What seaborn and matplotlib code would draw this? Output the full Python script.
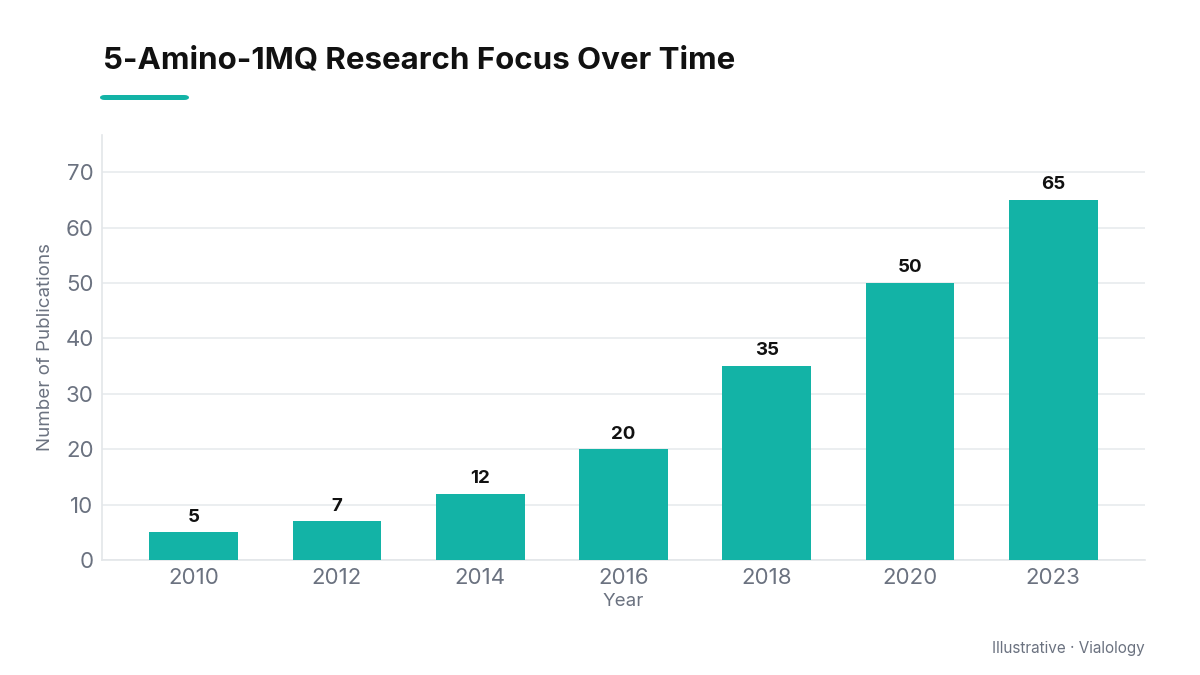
import matplotlib
matplotlib.use("Agg")
import matplotlib.pyplot as plt
import seaborn as sns
import pandas as pd
from matplotlib.patches import FancyBboxPatch

years = ["2010", "2012", "2014", "2016", "2018", "2020", "2023"]
publications = [5, 7, 12, 20, 35, 50, 65]

TEAL = "#13b3a6"
GRAY_TEXT = "#6b7280"
GRID = "#e8ebee"

sns.set_theme(style="whitegrid")
plt.rcParams["font.family"] = ["Inter", "DejaVu Sans"]

df = pd.DataFrame({"Year": years, "Publications": publications})

fig = plt.figure(figsize=(12, 6.75), dpi=100)
ax = fig.add_axes([102 / 1200, 1 - 560 / 675, (1145 - 102) / 1200, (560 - 135) / 675])

sns.barplot(data=df, x="Year", y="Publications", color=TEAL, width=0.62,
            saturation=1, linewidth=0, ax=ax, zorder=3)

ax.set_xlim(-0.64, 6.64)
ax.set_ylim(0, max(publications) * 1.18)
ax.set_yticks(range(0, 71, 10))

for i, v in enumerate(publications):
    ax.text(i, v + 1.2, str(v), ha="center", va="bottom", fontsize=13.5,
            fontweight="bold", color="#111111")

ax.grid(axis="y", color=GRID, linewidth=1.2, zorder=0)
ax.grid(axis="x", visible=False)
for side in ["top", "right"]:
    ax.spines[side].set_visible(False)
for side in ["left", "bottom"]:
    ax.spines[side].set_color("#e3e6e9")
    ax.spines[side].set_linewidth(1.2)

ax.tick_params(axis="both", colors=GRAY_TEXT, labelsize=16, length=0, pad=6)
ax.set_xlabel("Year", fontsize=13.5, color=GRAY_TEXT, labelpad=3)
ax.set_ylabel("Number of Publications", fontsize=13.5, color=GRAY_TEXT, labelpad=8)

fig.text(103 / 1200, 1 - 61 / 675, "5-Amino-1MQ Research Focus Over Time",
         fontsize=22.5, fontweight="bold", color="#111111", va="center", ha="left")
fig.patches.append(FancyBboxPatch((100 / 1200, 1 - 100 / 675), 89 / 1200, 5 / 675,
                                  boxstyle="round,pad=0,rounding_size=0.004",
                                  transform=fig.transFigure, facecolor=TEAL,
                                  edgecolor="none"))
fig.text(1145 / 1200, 1 - 649 / 675, "Illustrative · Vialology", fontsize=11,
         color=GRAY_TEXT, ha="right", va="center")

fig.savefig("out.png", dpi=100)
